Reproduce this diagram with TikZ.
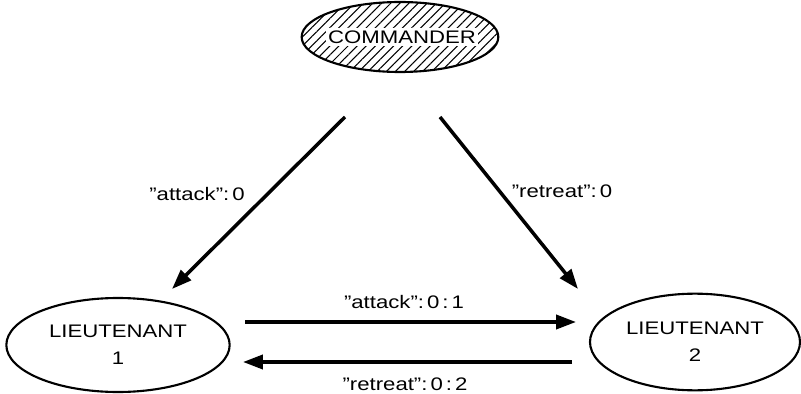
\documentclass[tikz,border=0pt]{standalone}
\usepackage{fontspec}
\setmainfont{Liberation Sans}[FakeStretch=1.22]
\usetikzlibrary{shapes.geometric,arrows.meta,patterns.meta}
\begin{document}
\begin{tikzpicture}[x=0.03cm,y=-0.03cm,
  every node/.style={font=\fontsize{15.5}{18}\selectfont},
  oval/.style={ellipse,draw,line width=1.8pt,inner sep=0pt,align=center},
  msg/.style={line width=3pt,-{Triangle[length=17pt,width=12pt]}},
  lbl/.style={inner sep=1pt}]
\useasboundingbox (0,0) rectangle (801,394);
% commander
\node[oval,minimum width=5.9cm,minimum height=2.1cm,
  pattern={Lines[angle=45,distance=5.5pt,line width=0.9pt]}] (cmd) at (400,37) {};
\node[fill=white,inner sep=2pt] (cmdtxt) at (402,37) {COMMANDER};
% lieutenants
\node[oval,minimum width=6.7cm,minimum height=2.82cm] (lt1) at (118,345) {LIEUTENANT\\[5pt]1};
\node[oval,minimum width=6.3cm,minimum height=2.9cm] (lt2) at (695,342) {LIEUTENANT\\[5pt]2};
% connector end points
\coordinate (c1s) at (345,117);
\coordinate (c1e) at (172,289);
\coordinate (c2s) at (440,117);
\coordinate (c2e) at (578,289);
\coordinate (h1s) at (245,322);
\coordinate (h1e) at (576,322);
\coordinate (h2s) at (572,362);
\coordinate (h2e) at (243,362);
\draw[msg] (c1s) -- (c1e);
\draw[msg] (c2s) -- (c2e);
\draw[msg] (h1s) -- (h1e);
\draw[msg] (h2s) -- (h2e);
% labels
\node[lbl] (l1) at (197,194) {''attack'':\,0};
\node[lbl] (l2) at (562,191) {''retreat'':\,0};
\node[lbl] (l3) at (404,302) {''attack'':\,0\,:\,1};
\node[lbl] (l4) at (405,384) {''retreat'':\,0\,:\,2};
\end{tikzpicture}
\end{document}
